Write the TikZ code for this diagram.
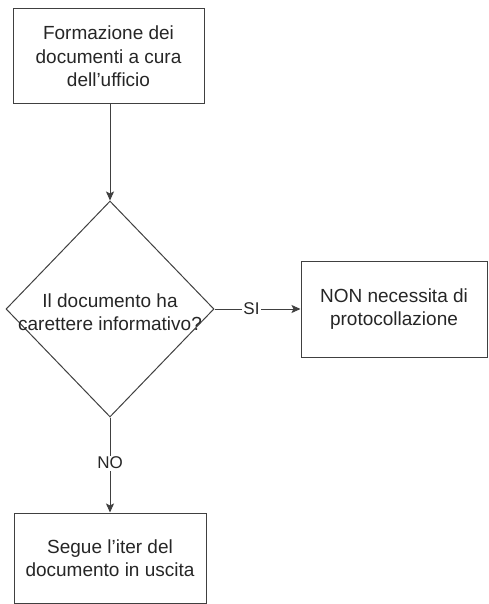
\documentclass[tikz,border=0pt]{standalone}
\usepackage{fontspec}
\setmainfont{Liberation Sans}
\usetikzlibrary{shapes.geometric, arrows.meta}

\tikzset{
    box/.style={draw=black!75, line width=1pt, rectangle, align=center,
        text=black!85, font=\fontsize{19}{23.5}\selectfont},
    decision/.style={draw=black!75, line width=1pt, diamond, inner sep=0pt,
        minimum width=208pt, minimum height=216pt},
    conn/.style={draw=black!75, line width=1pt},
    answer/.style={fill=white, inner sep=1.5pt, text=black!85,
        font=\fontsize{17}{20}\selectfont}
}

\begin{document}
\begin{tikzpicture}[x=1pt, y=-1pt, >={Stealth[length=9pt, width=8pt, inset=2pt]}]
    % the frame of the whole picture
    \useasboundingbox (0,0) rectangle (489,604);

    % The first box -> Formazione
    \node[box, minimum width=191pt, minimum height=95pt] (form) at (108.5,56.5)
        {Formazione dei\\documenti a cura\\dell'ufficio};

    % the diamond with the question
    \node[decision, label={[box, draw=none, yshift=-3pt]center:Il documento ha\\carettere informativo?}]
        (quest) at (110,309) {};

    % The box on the right -> NON necessita
    \node[box, minimum width=186pt, minimum height=96pt] (nonprot) at (394,309)
        {NON necessita di\\protocollazione};

    % The box at the bottom -> Segue l'iter
    \node[box, minimum width=192pt, minimum height=90pt] (iter) at (110,558)
        {Segue l'iter del\\documento in uscita};

    % Arrow from the first box to the diamond
    \draw[conn, ->] (form.south -| quest.north) -- (quest.north);
    % Arrow SI to the right box
    \draw[conn, ->] (quest.east) -- node[answer, pos=0.43] {SI} (nonprot.west);
    % Arrow NO to the bottom box
    \draw[conn, ->] (quest.south) -- node[answer, pos=0.48] {NO} (iter.north);
\end{tikzpicture}
\end{document}
